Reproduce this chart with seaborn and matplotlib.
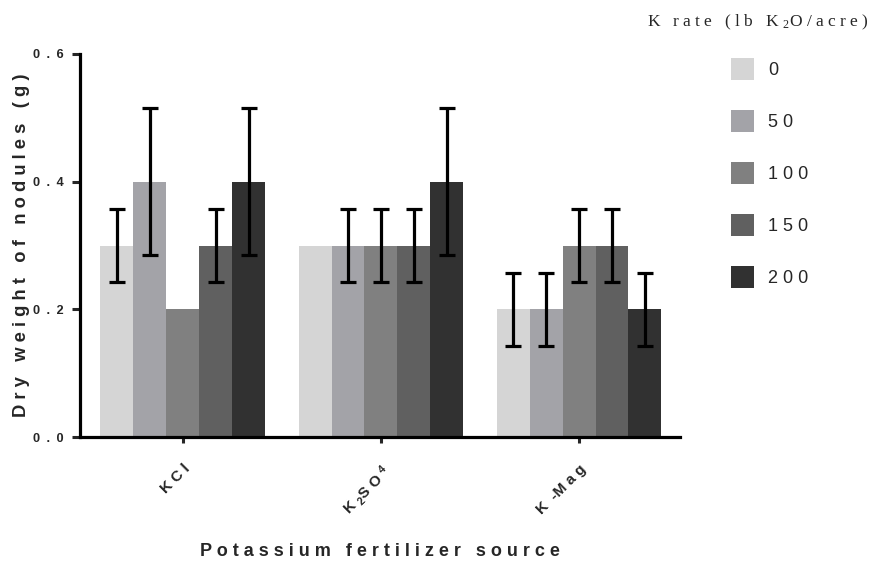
import matplotlib
matplotlib.use("Agg")
import matplotlib.pyplot as plt
import seaborn as sns
import pandas as pd

# Nodule dry weight (g) by fertilizer source and K rate, with SEM
sources = ["KCl", "K2SO4", "K-Mag"]
source_labels = ["K C l", "K $_2$S O $^4$", "K  -M a g"]
rates = ["0", "50", "100", "150", "200"]

kcl_mean = [0.3, 0.4, 0.2, 0.3, 0.4]
kcl_sem = [0.0577, 0.1155, 0.0, 0.0577, 0.1155]
k2so4_mean = [0.3, 0.3, 0.3, 0.3, 0.4]
k2so4_sem = [0.0, 0.0577, 0.0577, 0.0577, 0.1155]
kmag_mean = [0.2, 0.2, 0.3, 0.3, 0.2]
kmag_sem = [0.0577, 0.0577, 0.0577, 0.0577, 0.0577]

y_ticks = [0.0, 0.2, 0.4, 0.6]
colors = ["#d5d5d5", "#a3a3a8", "#808080", "#606060", "#313131"]

means = [kcl_mean, k2so4_mean, kmag_mean]
sems = [kcl_sem, k2so4_sem, kmag_sem]
rows = []
for s, m_list, e_list in zip(sources, means, sems):
    for r, m, e in zip(rates, m_list, e_list):
        rows.append({"source": s, "rate": r, "weight": m, "sem": e})
df = pd.DataFrame(rows)

EN = "\u2002"


def spaced(text, sep=" "):
    return sep.join(text)


sns.set_style("white")
plt.rcParams["font.family"] = ["Liberation Sans", "DejaVu Sans"]
plt.rcParams["mathtext.default"] = "regular"

fig = plt.figure(figsize=(8.79, 5.65), dpi=100)
ax = fig.add_axes([80 / 879, 1 - 437 / 565, 600 / 879, 383 / 565])

sns.barplot(data=df, x="source", y="weight", hue="rate", order=sources,
            hue_order=rates, palette=colors, saturation=1, width=0.833,
            errorbar=None, linewidth=0, ax=ax)

# SEM error bars: one bar container per K rate, bars in source order
for rate, container in zip(rates, ax.containers):
    sub = df[df["rate"] == rate].set_index("source").loc[sources]
    for bar, err in zip(container.patches, sub["sem"]):
        if err > 0:
            ax.errorbar(bar.get_x() + bar.get_width() / 2, bar.get_height(),
                        yerr=err, fmt="none", ecolor="black",
                        elinewidth=2.3, capsize=5.8, capthick=2.3, zorder=5)

ax.set_ylim(0, 0.6)
ax.set_xlim(-0.52, 2.51)
ax.set_yticks(y_ticks)
ax.set_yticklabels([spaced(f"{v:.1f}", EN) for v in y_ticks],
                   fontsize=9.2, fontweight="bold")
ax.set_xticks(range(len(sources)))
ax.set_xticklabels(source_labels, fontsize=11, fontweight="bold",
                   rotation=45, ha="right", rotation_mode="anchor")
ax.tick_params(axis="y", direction="out", length=6, width=2.2, pad=6,
               left=True)
ax.tick_params(axis="x", direction="out", length=4, width=2.2, pad=14,
               bottom=True)

for side in ["top", "right"]:
    ax.spines[side].set_visible(False)
for side in ["left", "bottom"]:
    ax.spines[side].set_linewidth(2.3)
    ax.spines[side].set_color("black")

ax.set_ylabel("D r y   w e i g h t   o f   n o d u l e s   ( g )",
              fontsize=13.2, fontweight="bold", labelpad=2)
ax.set_xlabel(spaced("Potassium fertilizer source"), fontsize=13,
              fontweight="bold", labelpad=17)

sns.move_legend(ax, "upper left", bbox_to_anchor=(731 / 879, 1 - 58 / 565),
                bbox_transform=fig.transFigure, title=None, frameon=False,
                fontsize=13, labelspacing=1.66, handlelength=1.3,
                handleheight=1.5, handletextpad=0.75, borderpad=0,
                borderaxespad=0)
leg = ax.get_legend()
for t, r in zip(leg.get_texts(), rates):
    t.set_text(spaced(r))

fig.text(758 / 879, 1 - 22 / 565,
         "K   r a t e   ( l b   K $_2$O / a c r e )",
         ha="center", va="center", fontsize=12.5,
         family=["Liberation Serif", "DejaVu Serif"])

fig.savefig("out.png", dpi=100)
